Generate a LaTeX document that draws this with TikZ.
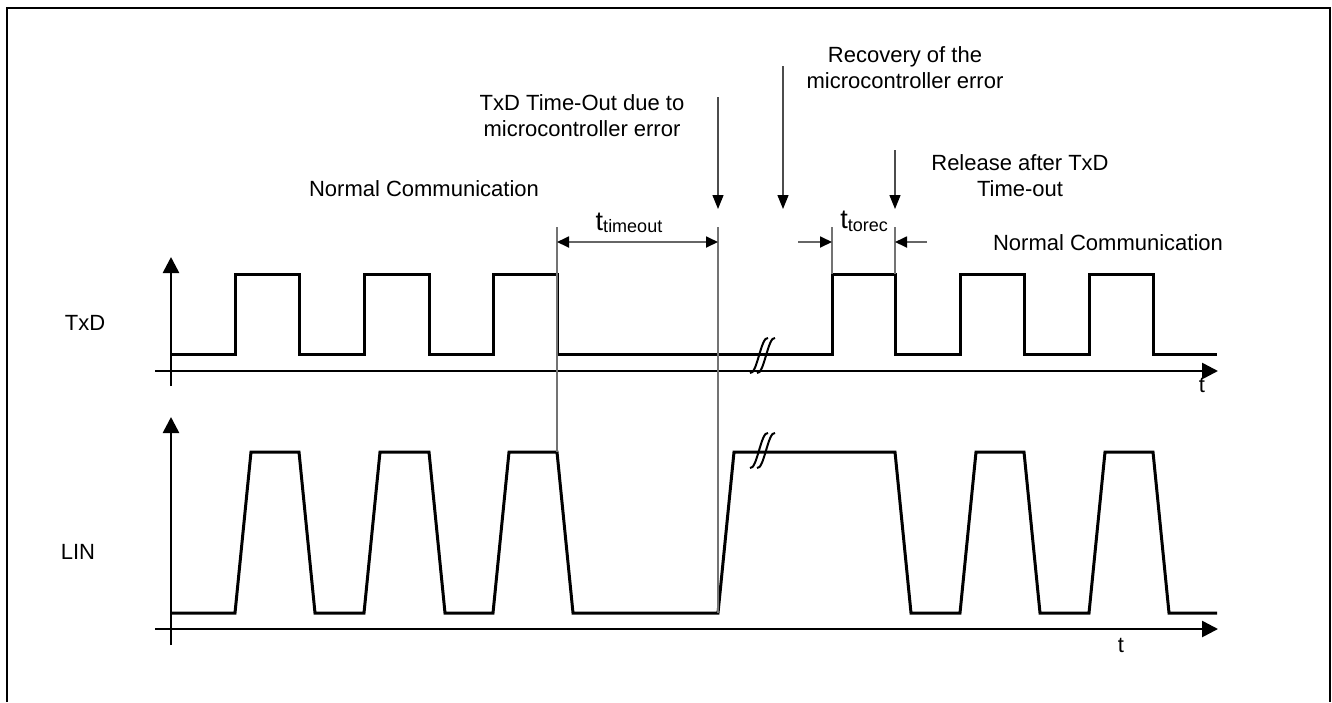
\documentclass[tikz,border=0pt]{standalone}
\usepackage{fontspec}
\setmainfont{Liberation Sans}
\usetikzlibrary{arrows.meta}
\begin{document}
\begin{tikzpicture}[x=1pt,y=-1pt,
  sig/.style={line width=3pt, line join=miter},
  axis/.style={line width=2.6pt, -{Triangle[length=16pt,width=16pt]}},
  guide/.style={line width=1.3pt, draw=black!55},
  dim/.style={line width=1.8pt, draw=black!60, {Triangle[length=12pt,width=11pt,black]}-{Triangle[length=12pt,width=11pt,black]}},
  ptr/.style={line width=1.8pt, draw=black!60, -{Triangle[length=12pt,width=11pt,black]}},
  lead/.style={line width=1.3pt, draw=black!70, -{Triangle[length=14pt,width=11pt,black]}},
  lbl/.style={font=\fontsize{22}{26}\selectfont, inner sep=0pt, align=center},
  brk/.style={line width=2pt}
]
\useasboundingbox (0,0) rectangle (1332,702);
% frame (open at the bottom)
\draw[line width=2pt] (7,702) -- (7,8) -- (1330,8) -- (1330,702);

% ---------- TxD axes ----------
\coordinate (txy0) at (171,386);
\coordinate (txy1) at (171,257);
\coordinate (txx0) at (155,371);
\coordinate (txx1) at (1218,371);
\draw[axis] (txy0) -- (txy1);
\draw[axis] (txx0) -- (txx1);
\node[lbl, anchor=base] (txt) at (1202,392) {t};
\node[lbl, anchor=base] (txdlbl) at (85,330) {TxD};

% TxD signal
\draw[sig] (171,354) -- (235,354) -- (235,274) -- (299,274) -- (299,354)
  -- (364,354) -- (364,274) -- (429,274) -- (429,354)
  -- (493,354) -- (493,274) -- (557,274) -- (557,354)
  -- (832,354) -- (832,274) -- (895,274) -- (895,354)
  -- (960,354) -- (960,274) -- (1024,274) -- (1024,354)
  -- (1089,354) -- (1089,274) -- (1153,274) -- (1153,354) -- (1217,354);

% ---------- LIN axes ----------
\coordinate (liny0) at (171,645);
\coordinate (liny1) at (171,417);
\coordinate (linx0) at (155,629);
\coordinate (linx1) at (1218,629);
\draw[axis] (liny0) -- (liny1);
\draw[axis] (linx0) -- (linx1);
\node[lbl, anchor=base] (lint) at (1121,652) {t};
\node[lbl, anchor=base] (linlbl) at (78,559) {LIN};

% LIN signal
\draw[sig] (171,613) -- (235,613) -- (251,452) -- (299,452) -- (315,613)
  -- (364,613) -- (380,452) -- (429,452) -- (445,613)
  -- (493,613) -- (509,452) -- (557,452) -- (573,613)
  -- (718,613) -- (734,452) -- (895,452) -- (911,613)
  -- (960,613) -- (976,452) -- (1024,452) -- (1040,613)
  -- (1089,613) -- (1105,452) -- (1153,452) -- (1169,613) -- (1217,613);

% break marks
\foreach \dx in {0,7}{
  \draw[brk] (750+\dx,373) .. controls (757+\dx,375) and (761+\dx,336) .. (768+\dx,338);
  \draw[brk] (750+\dx,468) .. controls (757+\dx,470) and (761+\dx,431) .. (768+\dx,433);
}

% ---------- guides & dimensions ----------
\coordinate (ga0) at (557,227); \coordinate (ga1) at (557,452);
\coordinate (gb0) at (718,227); \coordinate (gb1) at (718,613);
\coordinate (gc0) at (832,227); \coordinate (gc1) at (832,274);
\coordinate (gd0) at (895,227); \coordinate (gd1) at (895,274);
\draw[guide] (ga0) -- (ga1);
\draw[guide] (gb0) -- (gb1);
\draw[guide] (gc0) -- (gc1);
\draw[guide] (gd0) -- (gd1);

\coordinate (da) at (557,242); \coordinate (db) at (718,242);
\draw[dim] (da) -- (db);
\node[anchor=base, inner sep=0pt] (tto) at (629,230)
  {\fontsize{27}{30}\selectfont t\raisebox{-2pt}{\fontsize{18}{20}\selectfont timeout}};

\coordinate (ea0) at (798,242); \coordinate (ea1) at (832,242);
\coordinate (eb0) at (927,242); \coordinate (eb1) at (895,242);
\draw[ptr] (ea0) -- (ea1);
\draw[ptr] (eb0) -- (eb1);
\node[anchor=base, inner sep=0pt] (ttr) at (864,228)
  {\fontsize{27}{30}\selectfont t\raisebox{-3pt}{\fontsize{18}{20}\selectfont torec}};

% ---------- labels with pointers ----------
\node[lbl, anchor=base] (nc1) at (424,196) {Normal Communication};
\node[lbl, anchor=base] (nc2) at (1108,250) {Normal Communication};

\node[lbl, anchor=base] (tol1) at (582,110) {TxD Time-Out due to};
\node[lbl, anchor=base] (tol2) at (582,136) {microcontroller error};
\coordinate (tok) at (718,97);
\coordinate (tot) at (718,209);
\draw[lead] (tok) -- (tot);

\node[lbl, anchor=base] (rec1) at (905,62) {Recovery of the};
\node[lbl, anchor=base] (rec2) at (905,88) {microcontroller error};
\coordinate (rek) at (783,66);
\coordinate (ret) at (783,209);
\draw[lead] (rek) -- (ret);

\node[lbl, anchor=base] (rel1) at (1020,170) {Release after TxD};
\node[lbl, anchor=base] (rel2) at (1020,196) {Time-out};
\coordinate (rlk) at (895,150);
\coordinate (rlt) at (895,209);
\draw[lead] (rlk) -- (rlt);
\end{tikzpicture}
\end{document}
